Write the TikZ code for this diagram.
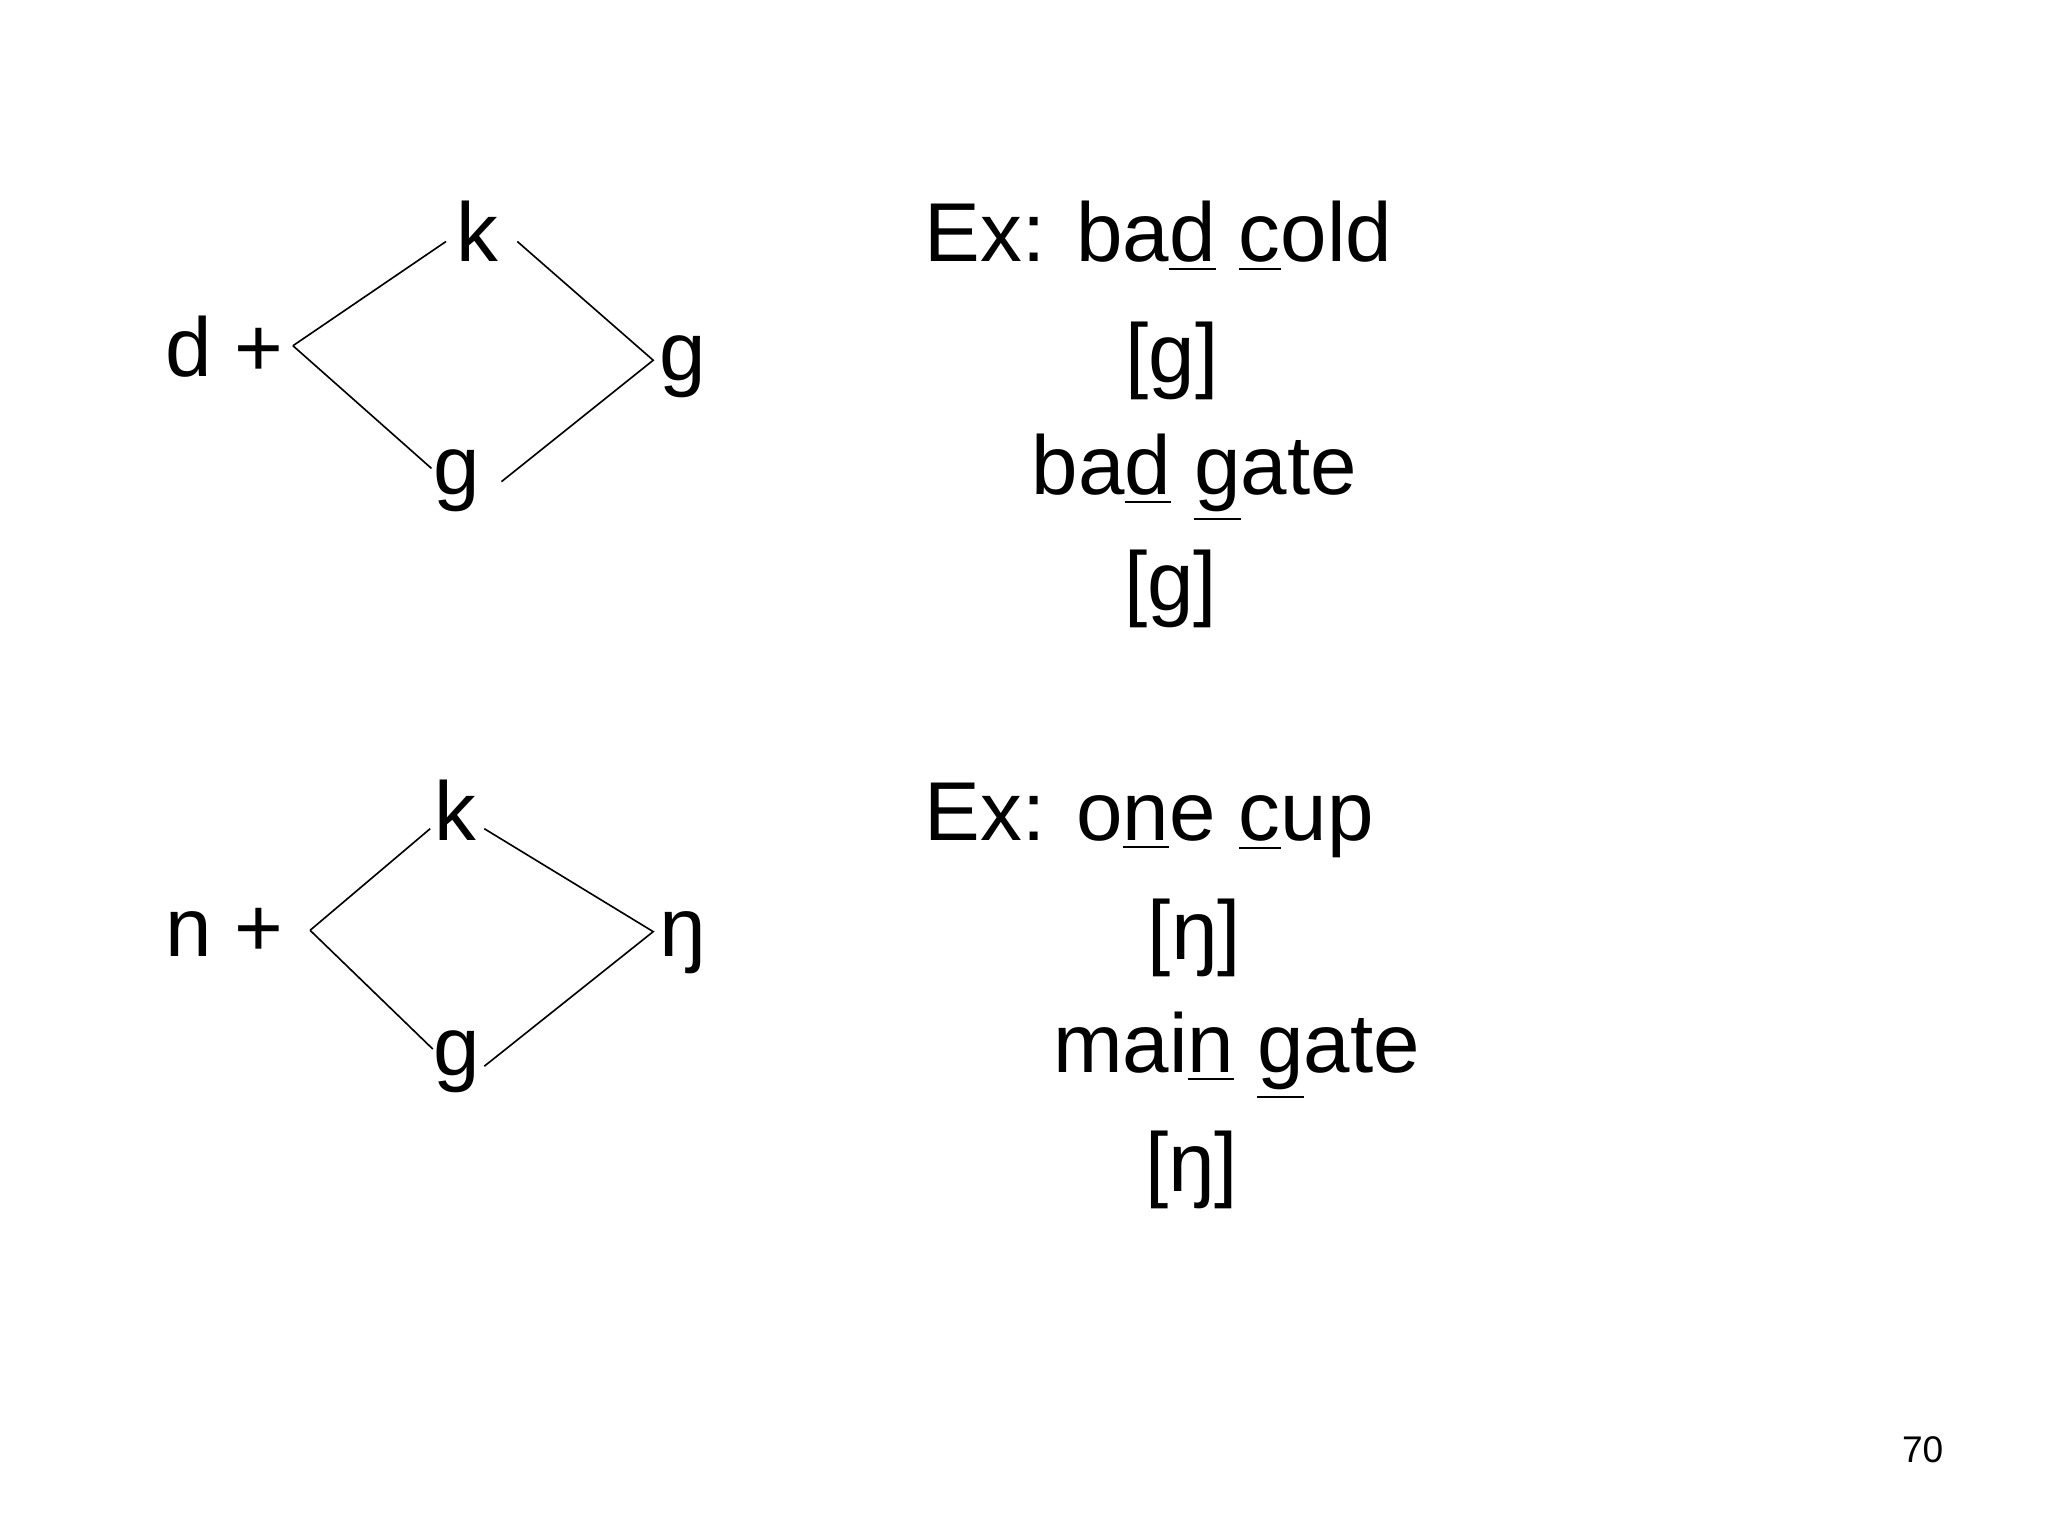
\documentclass[tikz,border=0pt]{standalone}
\usepackage{fontspec}
\setmainfont{Liberation Sans}
\begin{document}
\begin{tikzpicture}[x=0.01cm,y=-0.01cm,
  txt/.style={anchor=base,inner sep=0pt,font=\fontsize{18}{20}\selectfont},
  ln/.style={line width=0.35pt}]
\useasboundingbox (0,0) rectangle (1552,1164);
% top diagram
\node[txt] (k1) at (362,198) {k};
\node[txt] (d1) at (170,285) {d +};
\node[txt] (g1r) at (517,288) {g};
\node[txt] (g1b) at (346,375) {g};
\coordinate (a1) at (222,262); \coordinate (a2) at (338,183);
\coordinate (a3) at (327,355); \coordinate (a4) at (392,183);
\coordinate (a5) at (495,273); \coordinate (a6) at (380,365);
\draw[ln] (a1)--(a2) (a1)--(a3) (a4)--(a5)--(a6);
% bottom diagram
\node[txt] (k2) at (345,637) {k};
\node[txt] (n2) at (170,725) {n +};
\node[txt] (ng2) at (517,725) {ŋ};
\node[txt] (g2b) at (346,815) {g};
\coordinate (b1) at (235,705); \coordinate (b2) at (326,628);
\coordinate (b3) at (328,795); \coordinate (b4) at (367,628);
\coordinate (b5) at (495,706); \coordinate (b6) at (367,808);
\draw[ln] (b1)--(b2) (b1)--(b3) (b4)--(b5)--(b6);
% examples
\node[txt,anchor=base west] (e1) at (700,198) {Ex: ba\underline{d} \underline{c}old};
\node[txt] (e2) at (888,290) {[g]};
\node[txt] (e3) at (905,375) {ba\underline{d} \underline{g}ate};
\node[txt] (e4) at (887,463) {[g]};
\node[txt,anchor=base west] (f1) at (700,637) {Ex: o\underline{n}e \underline{c}up};
\node[txt] (f2) at (905,727) {[ŋ]};
\node[txt] (f3) at (937,813) {mai\underline{n} \underline{g}ate};
\node[txt] (f4) at (903,903) {[ŋ]};
\node[anchor=base,inner sep=0pt,font=\fontsize{8}{10}\selectfont] (pg) at (1457,1108) {70};
\end{tikzpicture}
\end{document}
